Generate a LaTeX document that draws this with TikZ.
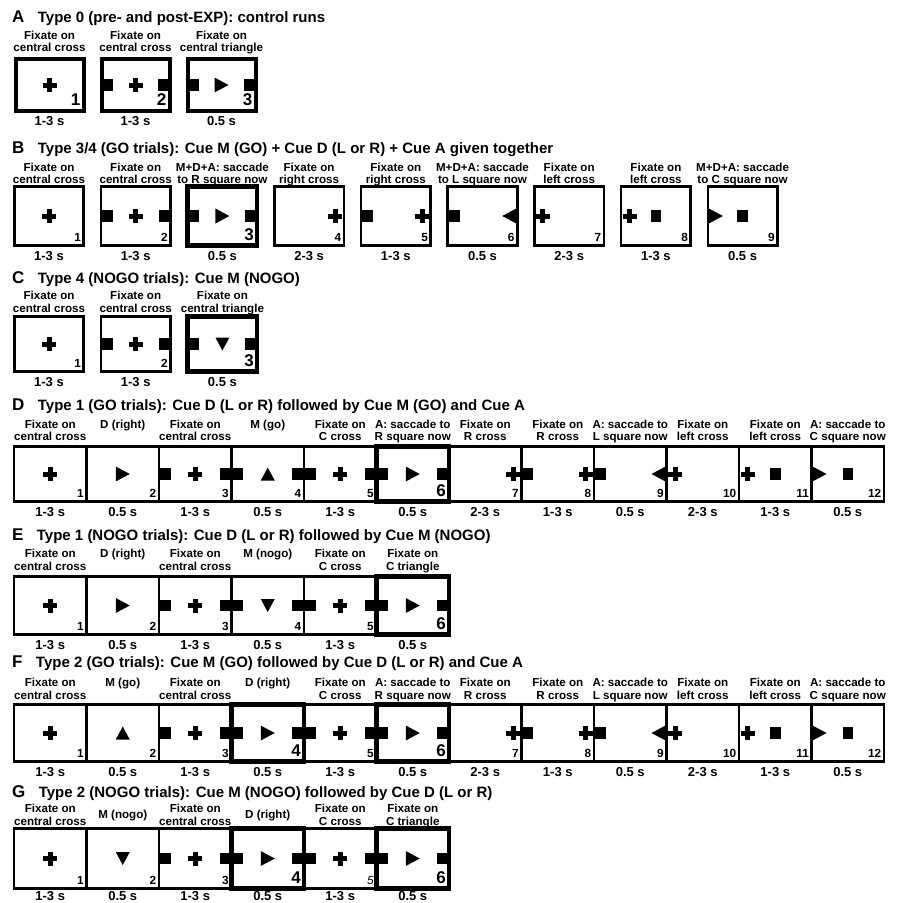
\documentclass[tikz,border=0pt]{standalone}
\usepackage{fontspec}
\setmainfont{Liberation Sans}
\usetikzlibrary{positioning}
\tikzset{
    scr/.style={
        draw, line width=2.6pt, inner sep=0pt, outer sep=0pt,
        minimum width=72.5pt, minimum height=58pt
    },
    scrbold/.style={scr, line width=4.6pt},
    scrit/.style={scr},
    % numero de pantalla (\fr num -> scrnum)
    scrnum/.style={
        font=\fontsize{11.8}{12}\selectfont\bfseries,
        anchor=base east, inner sep=0pt, xshift=-2.5pt, yshift=4pt
    },
    scrboldnum/.style={scrnum, font=\fontsize{17}{18}\selectfont\bfseries, xshift=-0.5pt, yshift=1.5pt},
    scritnum/.style={scrnum, font=\fontsize{11.8}{12}\selectfont\itshape},
    instr/.style={
        font=\fontsize{11.6}{12.3}\selectfont\bfseries,
        align=center, inner sep=0pt, text depth=0pt
    },
    dtime/.style={
        font=\fontsize{13}{14}\selectfont\bfseries,
        inner sep=0pt, text height=9.5pt, text depth=0pt
    },
    panel/.style={font=\fontsize{17}{18}\selectfont\bfseries, inner sep=0pt, anchor=base west},
    ptitle/.style={font=\fontsize{15}{16}\selectfont\bfseries, inner sep=0pt},
    % --- simbolos ---
    crs/.pic={
        \fill (-7pt,-2.5pt) rectangle (7pt,2.5pt);
        \fill (-2.5pt,-7pt) rectangle (2.5pt,7pt);
    },
    sqr/.pic={\fill (-5.25pt,-5.75pt) rectangle (5.25pt,5.75pt);},
    trir/.pic={\fill (-7pt,7.5pt) -- (7pt,0pt) -- (-7pt,-7.5pt) -- cycle;},
    tril/.pic={\fill (7pt,7.5pt) -- (-7pt,0pt) -- (7pt,-7.5pt) -- cycle;},
    triu/.pic={\fill (-7pt,-6.5pt) -- (0pt,6.5pt) -- (7pt,-6.5pt) -- cycle;},
    trid/.pic={\fill (-7pt,6.5pt) -- (0pt,-6.5pt) -- (7pt,6.5pt) -- cycle;},
    % --- pantallas ---
    fix/.pic={\pic at (#1.center) {crs};},
    cuer/.pic={\pic at (#1.center) {trir};},
    cueu/.pic={\pic at (#1.center) {triu};},
    cued/.pic={\pic at (#1.center) {trid};},
    tgt/.pic={
        \pic at ([xshift=6.5pt]#1.west) {sqr};
        \pic at ([xshift=-6.5pt]#1.east) {sqr};
    },
    tgtfix/.pic={\pic {tgt=#1}; \pic at (#1.center) {crs};},
    tgtr/.pic={\pic {tgt=#1}; \pic at (#1.center) {trir};},
    tgtu/.pic={\pic {tgt=#1}; \pic at (#1.center) {triu};},
    tgtd/.pic={\pic {tgt=#1}; \pic at (#1.center) {trid};},
    rfix/.pic={\pic at ([xshift=-8.5pt]#1.east) {crs};},
    rhold/.pic={\pic at ([xshift=6.5pt]#1.west) {sqr}; \pic {rfix=#1};},
    lsac/.pic={\pic at ([xshift=6.5pt]#1.west) {sqr}; \pic at ([xshift=-8pt]#1.east) {tril};},
    lfix/.pic={\pic at ([xshift=8.5pt]#1.west) {crs};},
    lhold/.pic={\pic {lfix=#1}; \pic at (#1.center) {sqr};},
    csac/.pic={\pic at ([xshift=8pt]#1.west) {trir}; \pic at (#1.center) {sqr};}
}

\begin{document}
\begin{tikzpicture}[x=1pt, y=-1pt]
    \useasboundingbox[fill=white] (0,0) rectangle (904,902);

    % --- A: tipo 0 ---
    \node[panel] (pA) at (12,22) {A};
    \node[ptitle, base right=13pt of pA] (tA) {Type 0 (pre- and post-EXP): control runs};
    \foreach \i/\sc/\lab/\dur in {
        1/fix/{Fixate on\\central cross}/1-3 s,
        2/tgtfix/{Fixate on\\central cross}/1-3 s,
        3/tgtr/{Fixate on\\central triangle}/0.5 s} {
        \node[scrbold, line width=4pt, minimum width=68pt, minimum height=52pt] (A\i) at ({49.5+86*(\i-1)},85) {};
        \pic {\sc=A\i};
        \node[scrboldnum] (nA\i) at (A\i.south east) {\i};
        \node[instr, above=7pt of A\i] (iA\i) {\lab};
        \node[dtime, below=5pt of A\i] (dA\i) {\dur};
    }

    % --- B: tipo 3/4 ---
    \node[panel] (pB) at (12,153) {B};
    \node[ptitle, base right=13pt of pB] (tB) {Type 3/4 (GO trials): Cue M (GO) + Cue D (L or R) + Cue A given together};
    \foreach \i/\sc/\fr/\lab/\dur in {
        1/fix/scr/{Fixate on\\central cross}/1-3 s,
        2/tgtfix/scr/{Fixate on\\central cross}/1-3 s,
        3/tgtr/scrbold/{M+D+A: saccade\\to R square now}/0.5 s,
        4/rfix/scr/{Fixate on\\right cross}/2-3 s,
        5/rhold/scr/{Fixate on\\right cross}/1-3 s,
        6/lsac/scr/{M+D+A: saccade\\to L square now}/0.5 s,
        7/lfix/scr/{Fixate on\\left cross}/2-3 s,
        8/lhold/scr/{Fixate on\\left cross}/1-3 s,
        9/csac/scr/{M+D+A: saccade\\to C square now}/0.5 s} {
        \node[\fr, minimum width=69.5pt, minimum height=59.5pt] (B\i) at ({49+86.7*(\i-1)},216) {};
        \pic {\sc=B\i};
        \node[\fr num] (nB\i) at (B\i.south east) {\i};
        \node[instr, above=2.5pt of B\i] (iB\i) {\lab};
        \node[dtime, below=5pt of B\i] (dB\i) {\dur};
    }

    % --- C: tipo 4 ---
    \node[panel] (pC) at (12,283) {C};
    \node[ptitle, base right=13pt of pC] (tC) {Type 4 (NOGO trials): Cue M (NOGO)};
    \foreach \i/\sc/\fr/\lab/\dur in {
        1/fix/scr/{Fixate on\\central cross}/1-3 s,
        2/tgtfix/scr/{Fixate on\\central cross}/1-3 s,
        3/tgtd/scrbold/{Fixate on\\central triangle}/0.5 s} {
        \node[\fr, minimum width=69.5pt, minimum height=55.5pt] (C\i) at ({49+86.7*(\i-1)},344) {};
        \pic {\sc=C\i};
        \node[\fr num] (nC\i) at (C\i.south east) {\i};
        \node[instr, above=4pt of C\i] (iC\i) {\lab};
        \node[dtime, below=5pt of C\i] (dC\i) {\dur};
    }

    % --- D: tipo 1 GO ---
    \node[panel] (pD) at (12,410) {D};
    \node[ptitle, base right=13pt of pD] (tD) {Type 1 (GO trials): Cue D (L or R) followed by Cue M (GO) and Cue A};
    \foreach \i/\sc/\fr/\lab/\dur in {
        1/fix/scr/{Fixate on\\central cross}/1-3 s,
        2/cuer/scr/{\raisebox{12.3pt}{D (right)}}/0.5 s,
        3/tgtfix/scr/{Fixate on\\central cross}/1-3 s,
        4/tgtu/scr/{\raisebox{12.3pt}{M (go)}}/0.5 s,
        5/tgtfix/scr/{Fixate on\\C cross}/1-3 s,
        6/tgtr/scrbold/{A: saccade to\\R square now}/0.5 s,
        7/rfix/scr/{Fixate on\\R cross}/2-3 s,
        8/rhold/scr/{Fixate on\\R cross}/1-3 s,
        9/lsac/scr/{A: saccade to\\L square now}/0.5 s,
        10/lfix/scr/{Fixate on\\left cross}/2-3 s,
        11/lhold/scr/{Fixate on\\left cross}/1-3 s,
        12/csac/scr/{A: saccade to\\C square now}/0.5 s} {
        \node[\fr, minimum height=55.5pt] (D\i) at ({50.25+72.5*(\i-1)},474) {};
        \pic {\sc=D\i};
        \node[\fr num] (nD\i) at (D\i.south east) {\i};
        \node[instr, above=5.5pt of D\i] (iD\i) {\lab};
        \node[dtime, below=5pt of D\i] (dD\i) {\dur};
    }

    % --- E: tipo 1 NOGO ---
    \node[panel] (pE) at (12,540) {E};
    \node[ptitle, base right=13pt of pE] (tE) {Type 1 (NOGO trials): Cue D (L or R) followed by Cue M (NOGO)};
    \foreach \i/\sc/\fr/\lab/\dur in {
        1/fix/scr/{Fixate on\\central cross}/1-3 s,
        2/cuer/scr/{\raisebox{12.3pt}{D (right)}}/0.5 s,
        3/tgtfix/scr/{Fixate on\\central cross}/1-3 s,
        4/tgtd/scr/{\raisebox{12.3pt}{M (nogo)}}/0.5 s,
        5/tgtfix/scr/{Fixate on\\C cross}/1-3 s,
        6/tgtr/scrbold/{Fixate on\\C triangle}/0.5 s} {
        \node[\fr, minimum height=58.5pt] (E\i) at ({50.25+72.5*(\i-1)},605.5) {};
        \pic {\sc=E\i};
        \node[\fr num] (nE\i) at (E\i.south east) {\i};
        \node[instr, above=6pt of E\i] (iE\i) {\lab};
        \node[dtime, below=5pt of E\i] (dE\i) {\dur};
    }

    % --- F: tipo 2 GO ---
    \node[panel] (pF) at (12,667) {F};
    \node[ptitle, base right=13pt of pF] (tF) {Type 2 (GO trials): Cue M (GO) followed by Cue D (L or R) and Cue A};
    \foreach \i/\sc/\fr/\lab/\dur in {
        1/fix/scr/{Fixate on\\central cross}/1-3 s,
        2/cueu/scr/{\raisebox{12.3pt}{M (go)}}/0.5 s,
        3/tgtfix/scr/{Fixate on\\central cross}/1-3 s,
        4/tgtr/scrbold/{\raisebox{12.3pt}{D (right)}}/0.5 s,
        5/tgtfix/scr/{Fixate on\\C cross}/1-3 s,
        6/tgtr/scrbold/{A: saccade to\\R square now}/0.5 s,
        7/rfix/scr/{Fixate on\\R cross}/2-3 s,
        8/rhold/scr/{Fixate on\\R cross}/1-3 s,
        9/lsac/scr/{A: saccade to\\L square now}/0.5 s,
        10/lfix/scr/{Fixate on\\left cross}/2-3 s,
        11/lhold/scr/{Fixate on\\left cross}/1-3 s,
        12/csac/scr/{A: saccade to\\C square now}/0.5 s} {
        \node[\fr, minimum height=57.5pt] (F\i) at ({50.25+72.5*(\i-1)},733) {};
        \pic {\sc=F\i};
        \node[\fr num] (nF\i) at (F\i.south east) {\i};
        \node[instr, above=5pt of F\i] (iF\i) {\lab};
        \node[dtime, below=5pt of F\i] (dF\i) {\dur};
    }

    % --- G: tipo 2 NOGO ---
    \node[panel] (pG) at (12,797) {G};
    \node[ptitle, base right=13pt of pG] (tG) {Type 2 (NOGO trials): Cue M (NOGO) followed by Cue D (L or R)};
    \foreach \i/\sc/\fr/\lab/\dur in {
        1/fix/scr/{Fixate on\\central cross}/1-3 s,
        2/cued/scr/{\raisebox{7pt}{M (nogo)}}/0.5 s,
        3/tgtfix/scr/{Fixate on\\central cross}/1-3 s,
        4/tgtr/scrbold/{\raisebox{7pt}{D (right)}}/0.5 s,
        5/tgtfix/scrit/{Fixate on\\C cross}/1-3 s,
        6/tgtr/scrbold/{Fixate on\\C triangle}/0.5 s} {
        \node[\fr, minimum height=60.5pt] (G\i) at ({50.25+72.5*(\i-1)},858.5) {};
        \pic {\sc=G\i};
        \node[\fr num] (nG\i) at (G\i.south east) {\i};
        \node[instr, above=3pt of G\i] (iG\i) {\lab};
        \node[dtime, below=2.5pt of G\i] (dG\i) {\dur};
    }

\end{tikzpicture}
\end{document}
